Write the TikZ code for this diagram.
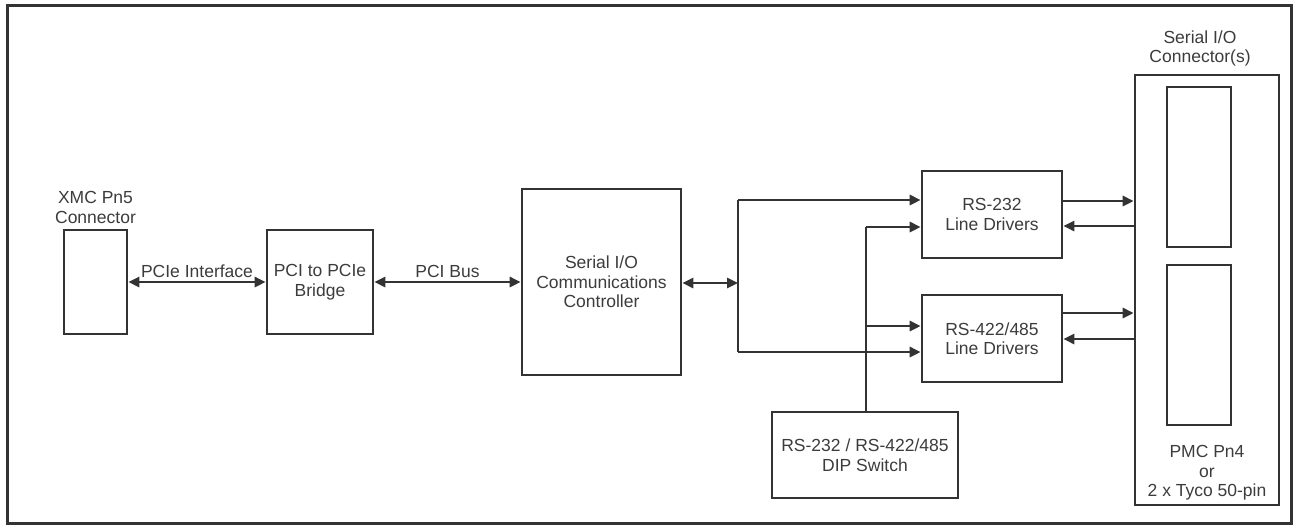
\documentclass[tikz,border=0pt]{standalone}
\usepackage{fontspec}
\setmainfont{Liberation Sans}
\usepackage{tikz}
\usetikzlibrary{positioning}
\usetikzlibrary{calc}
\usetikzlibrary{arrows.meta}
\definecolor{ink}{HTML}{333333}
\definecolor{txt}{HTML}{3C3C3C}
\tikzstyle{block} = [draw=ink, rectangle, line width=2.6pt, inner sep=0pt,
font=\fontsize{17.5}{19.5}\selectfont, text=txt, align=center]
\tikzstyle{tag} = [font=\fontsize{17.5}{19.5}\selectfont, text=txt, align=center, inner sep=3pt]
\tikzstyle{line} = [draw=ink, line width=2.6pt, -{Triangle[length=11pt,width=10pt]}]
\tikzstyle{dline} = [draw=ink, line width=2.6pt, {Triangle[length=11pt,width=10pt]}-{Triangle[length=11pt,width=10pt]}]

\begin{document}
\begin{tikzpicture}[x=1pt, y=-1pt]
\useasboundingbox (0,0) rectangle (1297,528);
\draw [ink, line width=3pt] (7,5) rectangle (1291,523);
%% Blocks
\node [block, minimum width=63, minimum height=104] (xmc) at (95.5,282) {};
\node [tag, above=2pt of xmc] (xmclbl) {XMC Pn5\\Connector};
\node [block, minimum width=106, minimum height=104] (bridge) at (320,282) {PCI to PCIe\\Bridge};
\node [block, minimum width=159, minimum height=186] (ctrl) at (601.5,282) {Serial I/O\\Communications\\Controller};
\node [block, minimum width=140, minimum height=87] (rs232) at (992,214.5) {RS-232\\Line Drivers};
\node [block, minimum width=140, minimum height=87] (rs422) at (992,338.5) {RS-422/485\\Line Drivers};
\node [block, minimum width=186, minimum height=86] (dip) at (865,455) {RS-232 / RS-422/485\\DIP Switch};
\node [block, minimum width=144, minimum height=430] (conn) at (1207,290) {};
\node [tag, above=4pt of conn, xshift=-7pt] (connlbl) {Serial I/O\\Connector(s)};
\node [block, minimum width=64, minimum height=160] (slotA) at (1199,167) {};
\node [block, minimum width=64, minimum height=160] (slotB) at (1199,345) {};
\node [tag] (pmc) at (1207,473) {PMC Pn4\\or\\2 x Tyco 50-pin};
%% Bus split points
\coordinate (bt) at (738,200);
\coordinate (bm) at (738,283);
\coordinate (bb) at (738,352);
\coordinate (st) at (866,227);
\coordinate (sm) at (866,326);
%% Host side
\path [dline] (xmc.east) to node [tag, above] {PCIe Interface} (bridge.west);
\path [dline] (bridge.east) to node [tag, above] {PCI Bus} (ctrl.west);
\path [dline] (ctrl.east |- bm) to (bm);
%% Controller to drivers
\draw [ink, line width=2.6pt] (bt) -- (bb);
\path [line] (bt) to (bt -| rs232.west);
\path [line] (bb) to (bb -| rs422.west);
%% DIP switch
\draw [ink, line width=2.6pt] (dip.north -| st) -- (st);
\path [line] (st) to (st -| rs232.west);
\path [line] (sm) to (sm -| rs422.west);
%% Drivers to connector
\path [line] (rs232.east |- 0,201) to (conn.west |- 0,201);
\path [line] (conn.west |- 0,226) to (rs232.east |- 0,226);
\path [line] (rs422.east |- 0,313) to (conn.west |- 0,313);
\path [line] (conn.west |- 0,339) to (rs422.east |- 0,339);
\end{tikzpicture}
\end{document}
